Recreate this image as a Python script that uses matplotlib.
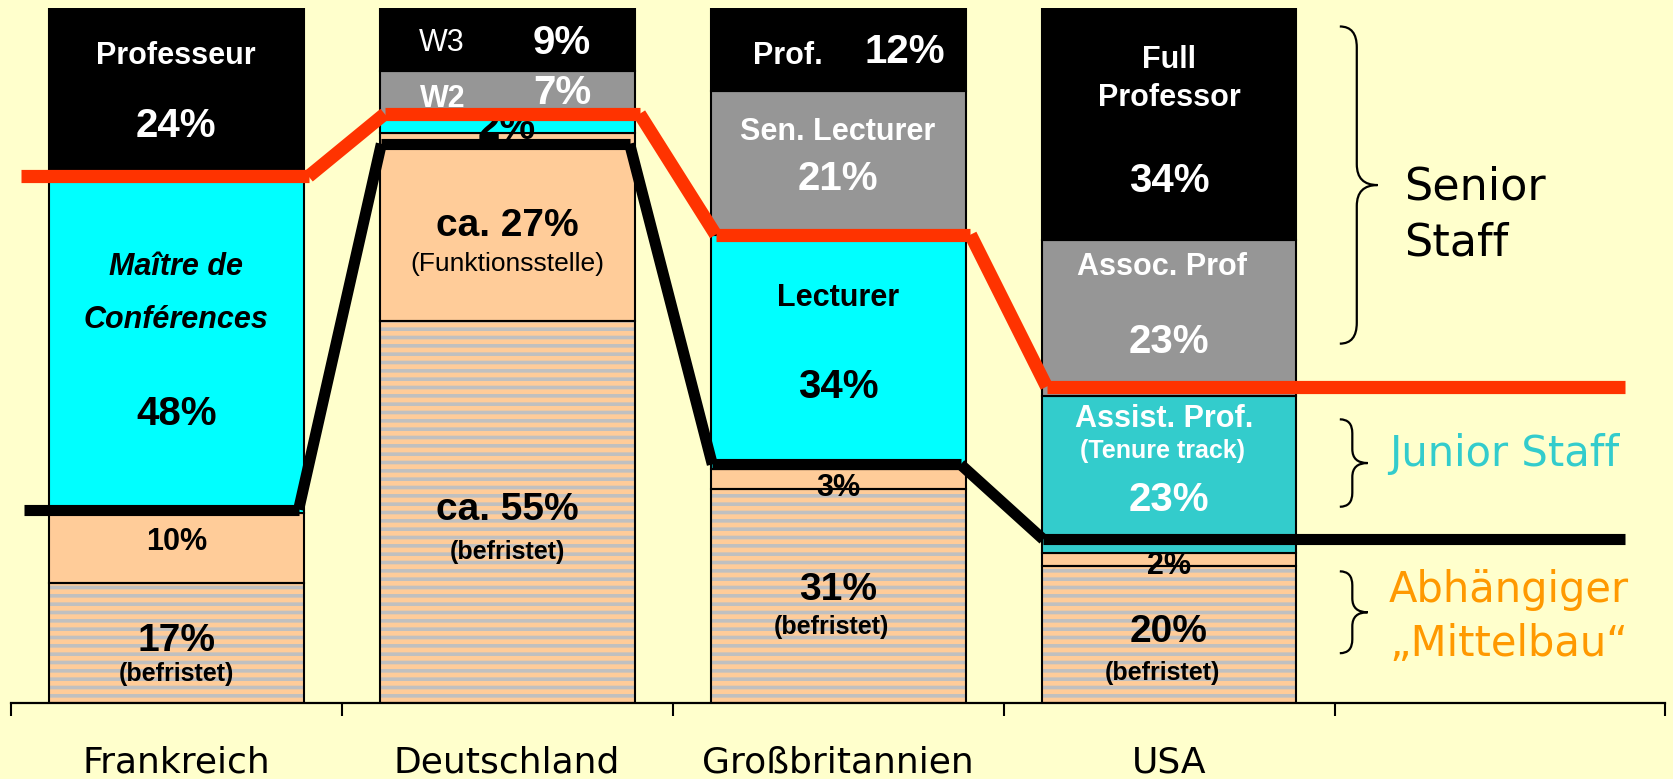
import numpy as np
import matplotlib
matplotlib.use("Agg")
import matplotlib.pyplot as plt
from matplotlib.path import Path
from matplotlib.patches import PathPatch

# ---------------- data ----------------
countries = ["Frankreich", "Deutschland", "Großbritannien", "USA"]
befristet = [17, 55, 31, 20]      # hatched (befristet)
mittelbau = [10, 27, 3, 2]        # salmon
junior = [48, 2, 34, 23]          # cyan / teal
senior_mid = [0, 7, 21, 23]       # gray
senior_top = [24, 9, 12, 34]      # black
senior_line = [75.8, 84.8, 67.4, 45.5]   # red line level (% of bar)
junior_line = [27.8, 80.5, 34.3, 23.5]   # black line level (% of bar)

# ---------------- style ----------------
BG = "#FFFFCC"
SALMON = "#FFCC99"
STRIPE = "#C0C0C0"
CYAN = "#00FFFF"
TEAL = "#33CCCC"
GRAY = "#969696"
RED = "#FF3300"
ORANGE = "#FF9900"
ARIAL = ["Liberation Sans", "DejaVu Sans"]
WIDE = ["DejaVu Sans"]

plt.rcParams["hatch.linewidth"] = 2.6

fig = plt.figure(figsize=(16.74, 7.79), dpi=100, facecolor=BG)
ax = fig.add_axes([0.0064, 0.0982, 0.9885, 0.891])
ax.set_facecolor(BG)

x = np.arange(len(countries))
totals = np.array(befristet) + np.array(mittelbau) + np.array(junior) + np.array(senior_mid) + np.array(senior_top)
width = 0.77

def share(v):
    return np.array(v, dtype=float) / totals * 100

layers = [
    (befristet, [SALMON] * 4, True),
    (mittelbau, [SALMON] * 4, False),
    (junior, [CYAN, CYAN, CYAN, TEAL], False),
    (senior_mid, [GRAY] * 4, False),
    (senior_top, ["black"] * 4, False),
]
bottom = np.zeros(len(countries))
for vals, cols, hatched in layers:
    h = share(vals)
    if hatched:
        ax.bar(x, h, width, bottom=bottom, color=cols, hatch="--",
               edgecolor=STRIPE, linewidth=0, zorder=2)
        ax.bar(x, h, width, bottom=bottom, fill=False, edgecolor="black",
               linewidth=1.5, zorder=2.5)
    else:
        ax.bar(x, h, width, bottom=bottom, color=cols, edgecolor="black",
               linewidth=1.5, zorder=2)
    bottom += h

# ---------------- level lines ----------------
def level_line(levels, left_off, right_off, first_left, last_right, color, lw):
    pts = []
    n = len(levels)
    for i, lv in enumerate(levels):
        l = first_left if i == 0 else i - left_off
        r = last_right if i == n - 1 else i + right_off
        pts.append((l, lv))
        pts.append((r, lv))
    for (x0, y0), (x1, y1) in zip(pts[:-1], pts[1:]):
        ax.plot([x0, x1], [y0, y1], color=color, lw=lw,
                solid_capstyle="butt", zorder=5)

level_line(senior_line, 0.37, 0.40, -0.468, 4.377, RED, 9.5)
level_line(junior_line, 0.38, 0.37, -0.46, 4.377, "black", 8)

# ---------------- bar texts ----------------
W, K = "white", "black"
texts = [
    # France
    (0, 0.0, 93.2, "Professeur", W, 22, "bold", "normal"),
    (0, 0.0, 83.1, "24%", W, 29, "bold", "normal"),
    (0, 0.0, 62.8, "Maître de", K, 22, "bold", "italic"),
    (0, 0.0, 55.1, "Conférences", K, 22, "bold", "italic"),
    (0, 0.0, 41.5, "48%", K, 29, "bold", "normal"),
    (0, 0.0, 23.1, "10%", K, 22, "bold", "normal"),
    (0, 0.0, 8.9, "17%", K, 28, "bold", "normal"),
    (0, 0.0, 4.1, "(befristet)", K, 18, "bold", "normal"),
    # Germany
    (1, -0.197, 95.0, "W3", W, 22, "normal", "normal"),
    (1, 0.166, 95.0, "9%", W, 29, "bold", "normal"),
    (1, -0.194, 86.9, "W2", W, 22, "bold", "normal"),
    (1, 0.166, 87.8, "7%", W, 29, "bold", "normal"),
    (1, 0.0, 82.8, "2%", K, 29, "bold", "normal"),
    (1, 0.0, 68.6, "ca. 27%", K, 28, "bold", "normal"),
    (1, 0.0, 63.2, "(Funktionsstelle)", K, 19, "normal", "normal"),
    (1, 0.0, 27.8, "ca. 55%", K, 28, "bold", "normal"),
    (1, 0.0, 21.7, "(befristet)", K, 18, "bold", "normal"),
    # UK
    (2, -0.152, 93.2, "Prof.", W, 22, "bold", "normal"),
    (2, 0.202, 93.7, "12%", W, 29, "bold", "normal"),
    (2, 0.0, 82.2, "Sen. Lecturer", W, 22, "bold", "normal"),
    (2, 0.0, 75.4, "21%", W, 29, "bold", "normal"),
    (2, 0.0, 58.3, "Lecturer", K, 22, "bold", "normal"),
    (2, 0.0, 45.4, "34%", K, 29, "bold", "normal"),
    (2, 0.0, 30.9, "3%", K, 22, "bold", "normal"),
    (2, 0.0, 16.2, "31%", K, 28, "bold", "normal"),
    (2, -0.02, 10.9, "(befristet)", K, 18, "bold", "normal"),
    # USA
    (3, 0.0, 92.5, "Full", W, 22, "bold", "normal"),
    (3, 0.0, 87.1, "Professor", W, 22, "bold", "normal"),
    (3, 0.0, 75.1, "34%", W, 29, "bold", "normal"),
    (3, -0.02, 62.8, "Assoc. Prof", W, 22, "bold", "normal"),
    (3, 0.0, 52.0, "23%", W, 29, "bold", "normal"),
    (3, -0.015, 40.9, "Assist. Prof.", W, 22, "bold", "normal"),
    (3, -0.02, 36.2, "(Tenure track)", W, 18, "bold", "normal"),
    (3, 0.0, 29.2, "23%", W, 29, "bold", "normal"),
    (3, 0.0, 19.7, "2%", K, 22, "bold", "normal"),
    (3, 0.0, 10.2, "20%", K, 28, "bold", "normal"),
    (3, -0.02, 4.2, "(befristet)", K, 18, "bold", "normal"),
]
for i, dx, y, s, c, size, weight, style in texts:
    ax.text(x[i] + dx, y, s, color=c, fontsize=size, fontweight=weight,
            fontstyle=style, family=ARIAL, ha="center", va="center", zorder=4)

# ---------------- braces & group labels ----------------
def brace(x0, x1, y_top, y_bot, r, lw=1.6):
    xm = x0 + (x1 - x0) * 0.45
    ym = (y_top + y_bot) / 2
    verts = [
        (x0, y_top), (xm, y_top), (xm, y_top - r),
        (xm, ym + r),
        (xm, ym), (x1, ym),
        (xm, ym), (xm, ym - r),
        (xm, y_bot + r),
        (xm, y_bot), (x0, y_bot),
    ]
    codes = [Path.MOVETO, Path.CURVE3, Path.CURVE3,
             Path.LINETO,
             Path.CURVE3, Path.CURVE3,
             Path.CURVE3, Path.CURVE3,
             Path.LINETO,
             Path.CURVE3, Path.CURVE3]
    ax.add_patch(PathPatch(Path(verts, codes), fill=False, edgecolor="black",
                           lw=lw, zorder=3, clip_on=False))

brace(3.516, 3.63, 97.4, 51.7, 3.0)
brace(3.516, 3.60, 40.8, 28.2, 2.0)
brace(3.516, 3.60, 18.9, 7.1, 2.0)

ax.text(3.71, 74.3, "Senior", fontsize=32, family=WIDE, color="black", ha="left", va="center")
ax.text(3.71, 66.2, "Staff", fontsize=32, family=WIDE, color="black", ha="left", va="center")
ax.text(3.665, 35.8, "Junior Staff", fontsize=30, family=WIDE, color=TEAL, ha="left", va="center")
ax.text(3.665, 16.2, "Abhängiger", fontsize=30, family=WIDE, color=ORANGE, ha="left", va="center")
ax.text(3.665, 8.5, "\u201eMittelbau\u201c", fontsize=30, family=WIDE, color=ORANGE, ha="left", va="center")

# ---------------- axes ----------------
ax.set_xlim(-0.5, 4.5)
ax.set_ylim(0, 100)
ax.set_yticks([])
for s in ("top", "left", "right"):
    ax.spines[s].set_visible(False)
ax.spines["bottom"].set_linewidth(1.6)
ax.spines["bottom"].set_zorder(6)
ax.set_xticks(np.arange(-0.5, 5.0, 1.0))
ax.set_xticklabels([])
ax.tick_params(axis="x", which="major", direction="out", length=9.5, width=1.5, color="black")
ax.set_xticks(x, minor=True)
ax.set_xticklabels(countries, minor=True, fontsize=26, family=WIDE)
ax.tick_params(axis="x", which="minor", length=0, pad=31)

fig.savefig("out.png", dpi=100, facecolor=BG)
